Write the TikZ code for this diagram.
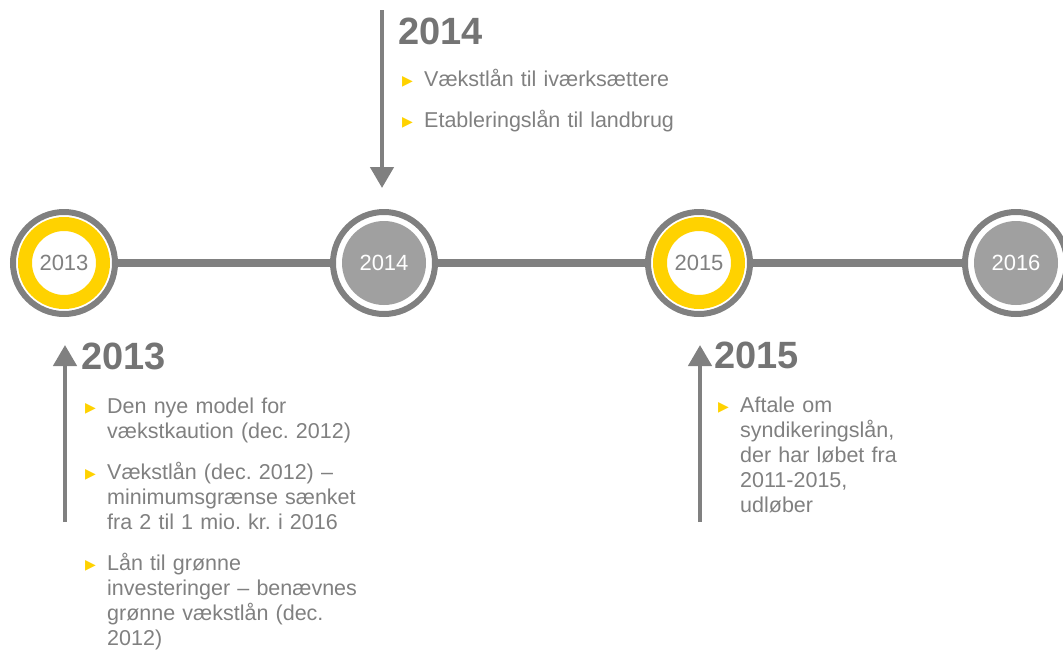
\documentclass[tikz,border=0pt]{standalone}
\usepackage{fontspec}
\setmainfont{Liberation Sans}
\newfontfamily\symfont{DejaVu Sans}
\usetikzlibrary{arrows.meta}

\definecolor{linegray}{HTML}{808080}
\definecolor{diskgray}{HTML}{A0A0A0}
\definecolor{txtgray}{HTML}{808080}
\definecolor{headgray}{HTML}{747474}
\definecolor{eyyellow}{HTML}{FFD200}

% yellow bullet, one hanging item and the gap between items
\newcommand\bmark{\raisebox{1pt}{\symfont\fontsize{14}{14}\selectfont\color{eyyellow}▶}}
\newcommand\bitem[1]{\hangindent=22pt\hangafter=1\noindent\makebox[22pt][l]{\bmark}#1\par}
\newcommand\bgap{\vspace{16pt}}

\tikzset{
  ring/.style={circle, draw=linegray, line width=6pt, fill=white, minimum size=102pt,
    inner sep=0pt, font=\fontsize{22}{22}\selectfont},
  done/.style={ring, text=txtgray, path picture={
      \fill[eyyellow, even odd rule] (path picture bounding box.center) circle (46pt) circle (32pt);}},
  todo/.style={ring, text=white, path picture={
      \fill[diskgray] (path picture bounding box.center) circle (42pt);}},
  tline/.style={draw=linegray, line width=8pt},
  yrarrow/.style={draw=linegray, line width=4.5pt, -{Triangle[width=23pt,length=21pt]}},
  yrhead/.style={anchor=base west, inner sep=0pt, text=headgray,
    font=\bfseries\fontsize{38}{38}\selectfont},
  yrlist/.style={anchor=base west, inner sep=0pt, text width=300pt, text=txtgray,
    font=\frenchspacing\fontsize{21.5}{25}\selectfont},
}

\begin{document}
\begin{tikzpicture}[x=1pt, y=-1pt]
\useasboundingbox (0,0) rectangle (1063,651);

% the time line
\node[done] (c13) at (64,263) {2013};
\node[todo] (c14) at (384,263) {2014};
\node[done] (c15) at (699,263) {2015};
\node[todo] (c16) at (1016,263) {2016};
\draw[tline] (c13) -- (c14) (c14) -- (c15) (c15) -- (c16);

% arrows to the notes
\coordinate (t14) at (382,10);
\coordinate (h14) at (382,188);
\coordinate (t13) at (65,522);
\coordinate (h13) at (65,345);
\coordinate (t15) at (700,522);
\coordinate (h15) at (700,345);
\draw[yrarrow] (t14) -- (h14);
\draw[yrarrow] (t13) -- (h13);
\draw[yrarrow] (t15) -- (h15);

% notes
\node[yrhead] (n14) at (398,44) {2014};
\node[yrlist] (l14) at (402,86) {%
  \bitem{Vækstlån til iværksættere}\bgap
  \bitem{Etableringslån til landbrug}};

\node[yrhead] (n13) at (81,369) {2013};
\node[yrlist] (l13) at (85,413) {%
  \bitem{Den nye model for\newline vækstkaution (dec. 2012)}\bgap
  \bitem{Vækstlån (dec. 2012) –\newline minimumsgrænse sænket\newline fra 2 til 1 mio. kr. i 2016}\bgap
  \bitem{Lån til grønne\newline investeringer – benævnes\newline grønne vækstlån (dec.\newline 2012)}};

\node[yrhead] (n15) at (714,368) {2015};
\node[yrlist] (l15) at (718,412) {%
  \bitem{Aftale om\newline syndikeringslån,\newline der har løbet fra\newline 2011-2015,\newline udløber}};
\end{tikzpicture}
\end{document}
